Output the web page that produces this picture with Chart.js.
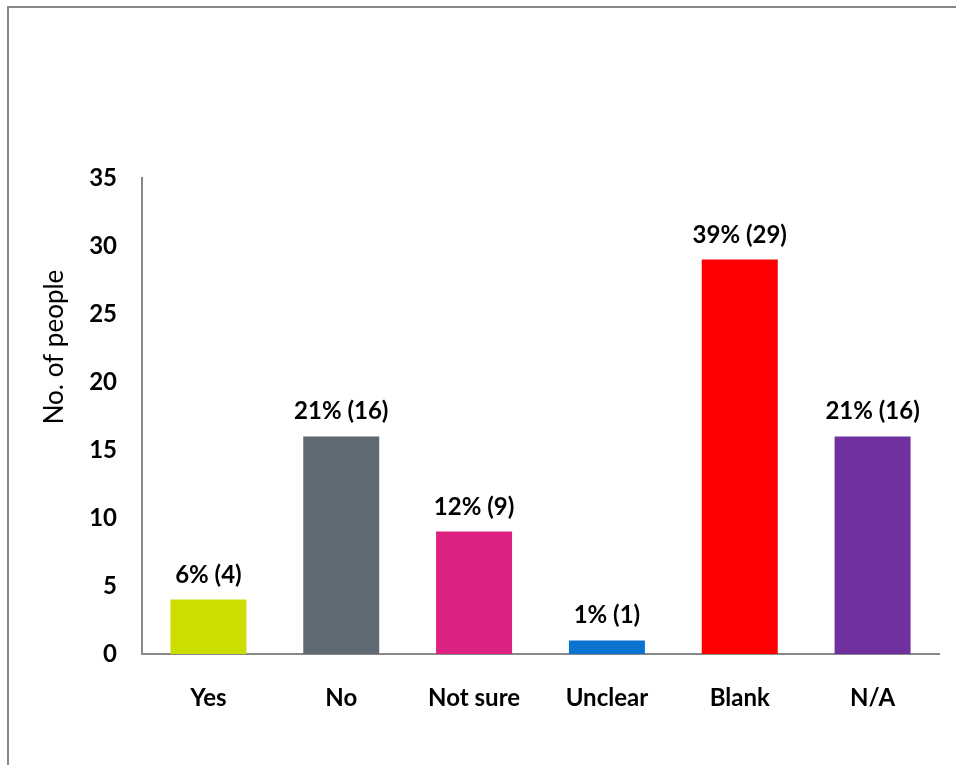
<!DOCTYPE html>
<html>
<head>
<meta charset="utf-8">
<script src="https://cdn.jsdelivr.net/npm/chart.js@4/dist/chart.umd.min.js"></script>
<style>
  html, body { margin: 0; padding: 0; background: #fff; }
  #wrap { position: relative; width: 956px; height: 765px; overflow: hidden; }
  #frame { position: absolute; left: 7px; top: 6px; width: 1000px; height: 800px;
           border-left: 2px solid #888; border-top: 2px solid #888; }
  #chart { position: absolute; left: 0; top: 0; }
</style>
</head>
<body>
<div id="wrap">
  <div id="frame"></div>
  <canvas id="chart" width="956" height="765"></canvas>
</div>
<script>
const categories = ["Yes", "No", "Not sure", "Unclear", "Blank", "N/A"];
const counts = [4, 16, 9, 1, 29, 16];
const percents = ["6%", "21%", "12%", "1%", "39%", "21%"];
const barColors = ["#CCDD00", "#5F6A72", "#DC2182", "#0B74D0", "#FF0000", "#7030A0"];
const yTicks = [0, 5, 10, 15, 20, 25, 30, 35];

const FONT = "Lato, 'Open Sans', sans-serif";

// "6% (4)" style labels above each bar
const valueLabels = {
  id: "valueLabels",
  afterDatasetsDraw(chart) {
    const ctx = chart.ctx;
    const meta = chart.getDatasetMeta(0);
    ctx.save();
    ctx.font = "bold 24px " + FONT;
    ctx.fillStyle = "#000";
    ctx.textAlign = "center";
    ctx.textBaseline = "alphabetic";
    meta.data.forEach((bar, i) => {
      ctx.fillText(percents[i] + " (" + counts[i] + ")", bar.x, bar.y - 17);
    });
    ctx.restore();
  }
};

// y axis title, sits a bit above the middle of the axis
const yTitle = {
  id: "yTitle",
  afterDraw(chart) {
    const ctx = chart.ctx;
    ctx.save();
    ctx.translate(63, 347);
    ctx.rotate(-Math.PI / 2);
    ctx.font = "26px " + FONT;
    ctx.fillStyle = "#000";
    ctx.textAlign = "center";
    ctx.textBaseline = "alphabetic";
    ctx.fillText("No. of people", 0, 0);
    ctx.restore();
  }
};

new Chart(document.getElementById("chart"), {
  type: "bar",
  data: {
    labels: categories,
    datasets: [{
      data: counts,
      backgroundColor: barColors,
      borderWidth: 0,
      barPercentage: 0.572,
      categoryPercentage: 1
    }]
  },
  options: {
    responsive: false,
    animation: false,
    layout: { padding: { left: 0, top: 178, right: 17, bottom: 0 } },
    plugins: { legend: { display: false }, tooltip: { enabled: false } },
    scales: {
      x: {
        grid: { display: false, drawTicks: false },
        border: { display: true, color: "#888", width: 2 },
        ticks: { color: "#000", font: { family: FONT, size: 24, weight: "bold" }, padding: 30, maxRotation: 0 },
        afterFit(axis) { axis.height = 111; }
      },
      y: {
        min: 0,
        max: 35,
        grid: { display: false, drawTicks: false },
        border: { display: true, color: "#888", width: 2 },
        afterBuildTicks(axis) { axis.ticks = yTicks.map(v => ({ value: v })); },
        ticks: { color: "#000", font: { family: FONT, size: 24, weight: "bold" }, padding: 25 },
        afterFit(axis) { axis.width = 142; }
      }
    }
  },
  plugins: [valueLabels, yTitle]
});
</script>
</body>
</html>
